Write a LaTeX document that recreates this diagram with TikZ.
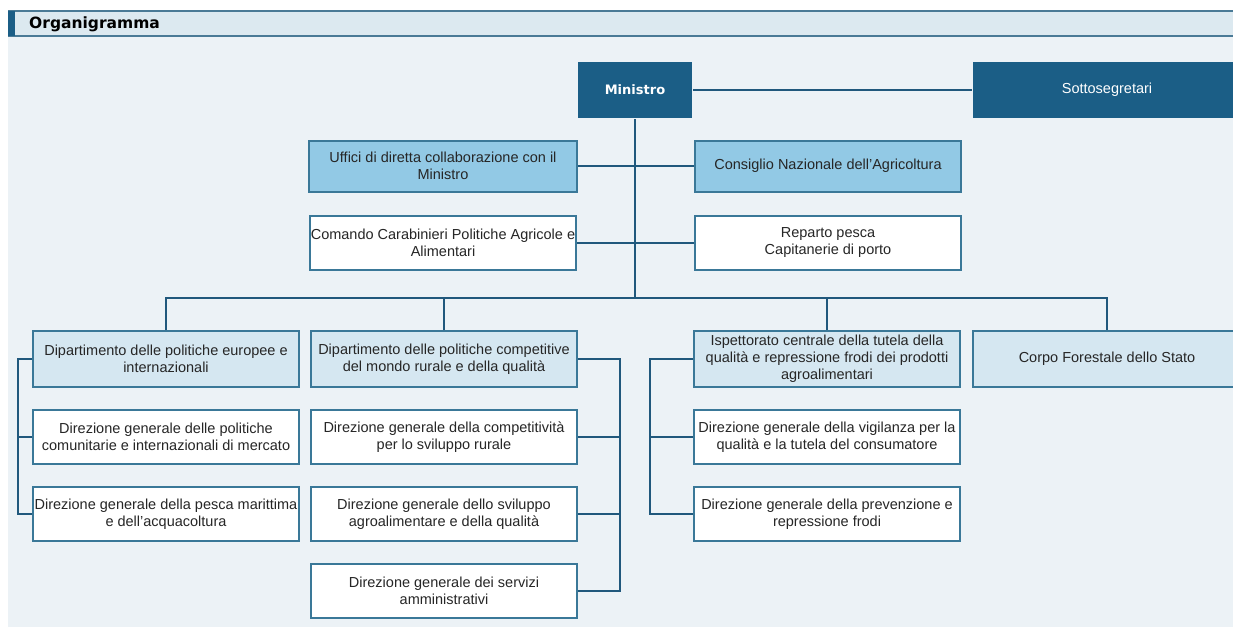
\documentclass[tikz,border=0pt]{standalone}
\usepackage{fontspec}
\setmainfont{Liberation Sans}
\newfontfamily\headfont{DejaVu Sans}
\usepackage{tikz}
\usetikzlibrary{positioning}

\definecolor{darkblue}{RGB}{27,94,134}
\definecolor{edgeblue}{RGB}{58,120,152}
\definecolor{lineblue}{RGB}{32,88,124}
\definecolor{midblue}{RGB}{146,201,229}
\definecolor{paleblue}{RGB}{213,231,241}
\definecolor{pagebg}{RGB}{236,242,246}
\definecolor{barbg}{RGB}{220,233,240}
\definecolor{barline}{RGB}{74,122,150}

\begin{document}
\begin{tikzpicture}[x=1pt, y=-1pt,
    box/.style={draw=edgeblue, line width=2pt, minimum width=266pt, minimum height=54pt,
      inner sep=1pt, align=center, text=black!85, font=\fontsize{14.5}{17}\selectfont},
    chief/.style={box, draw=none, fill=darkblue, text=white, minimum height=56pt},
    staff/.style={box, fill=midblue, minimum height=51pt},
    dept/.style={box, fill=paleblue, minimum height=56pt},
    office/.style={box, fill=white},
    link/.style={draw=lineblue, line width=2pt}]

    \useasboundingbox (0,0) rectangle (1233,627);
    \fill[pagebg] (8,37) rectangle (1233,627);
    \fill[barbg] (8,11) rectangle (1233,36);
    \draw[barline, line width=1.5pt] (8,11) -- (1233,11) (8,36) -- (1233,36);
    \fill[darkblue] (8,11) rectangle (15,36);
    \node[anchor=west, inner sep=0pt, font=\headfont\bfseries\fontsize{15.5}{18}\selectfont] (title) at (29,24) {Organigramma};

    \node (Ministro) [chief, minimum width=114pt, font=\headfont\bfseries\fontsize{13}{16}\selectfont] at (635,90) {Ministro};
    \node (Sotto) [chief, minimum width=268pt] at (1107,90) {Sottosegretari};

    \node (Uffici) [staff, minimum width=268pt] at (443,166) {Uffici di diretta collaborazione con il\\Ministro};
    \node (Consiglio) [staff] at (828,166) {Consiglio Nazionale dell'Agricoltura};
    \node (Comando) [office] at (443,243) {Comando Carabinieri Politiche Agricole e\\Alimentari};
    \node (Reparto) [office] at (828,243) {Reparto pesca\\Capitanerie di porto};

    \node (DipEU) [dept] at (166,359) {Dipartimento delle politiche europee e\\internazionali};
    \node (DirMercato) [office, below=21pt of DipEU] {Direzione generale delle politiche\\comunitarie e internazionali di mercato};
    \node (DirPesca) [office, below=21pt of DirMercato] {Direzione generale della pesca marittima\\e dell'acquacoltura};

    \node (DipRurale) [dept] at (444,359) {Dipartimento delle politiche competitive\\del mondo rurale e della qualità};
    \node (DirCompet) [office, below=21pt of DipRurale] {Direzione generale della competitività\\per lo sviluppo rurale};
    \node (DirSviluppo) [office, below=21pt of DirCompet] {Direzione generale dello sviluppo\\agroalimentare e della qualità};
    \node (DirServizi) [office, below=21pt of DirSviluppo] {Direzione generale dei servizi\\amministrativi};

    \node (Ispettorato) [dept] at (827,359) {Ispettorato centrale della tutela della\\qualità e repressione frodi dei prodotti\\agroalimentari};
    \node (DirVigilanza) [office, below=21pt of Ispettorato] {Direzione generale della vigilanza per la\\qualità e la tutela del consumatore};
    \node (DirFrodi) [office, below=21pt of DirVigilanza] {Direzione generale della prevenzione e\\repressione frodi};

    \node (Corpo) [dept, minimum width=268pt] at (1107,359) {Corpo Forestale dello Stato};

    \coordinate (bus) at (635,298);
    \coordinate (spineEU) at (18,0);
    \coordinate (spineRurale) at (620,0);
    \coordinate (spineIsp) at (650,0);

    \draw[link] (Ministro) -- (Sotto);
    \draw[link] (Ministro.south) -- (bus);
    \draw[link] (Uffici) -- (Consiglio);
    \draw[link] (Comando) -- (Reparto);
    \draw[link] (DipEU.north) |- (bus) -| (Corpo.north);
    \draw[link] (DipRurale.north) -- (DipRurale.north |- bus);
    \draw[link] (Ispettorato.north) -- (Ispettorato.north |- bus);

    \draw[link] (DipEU.west) -- (DipEU.west -| spineEU) |- (DirPesca.west);
    \draw[link] (DirMercato.west) -- (DirMercato.west -| spineEU);
    \draw[link] (DipRurale.east) -- (DipRurale.east -| spineRurale) |- (DirServizi.east);
    \draw[link] (DirCompet.east) -- (DirCompet.east -| spineRurale);
    \draw[link] (DirSviluppo.east) -- (DirSviluppo.east -| spineRurale);
    \draw[link] (Ispettorato.west) -- (Ispettorato.west -| spineIsp) |- (DirFrodi.west);
    \draw[link] (DirVigilanza.west) -- (DirVigilanza.west -| spineIsp);

\end{tikzpicture}
\end{document}
